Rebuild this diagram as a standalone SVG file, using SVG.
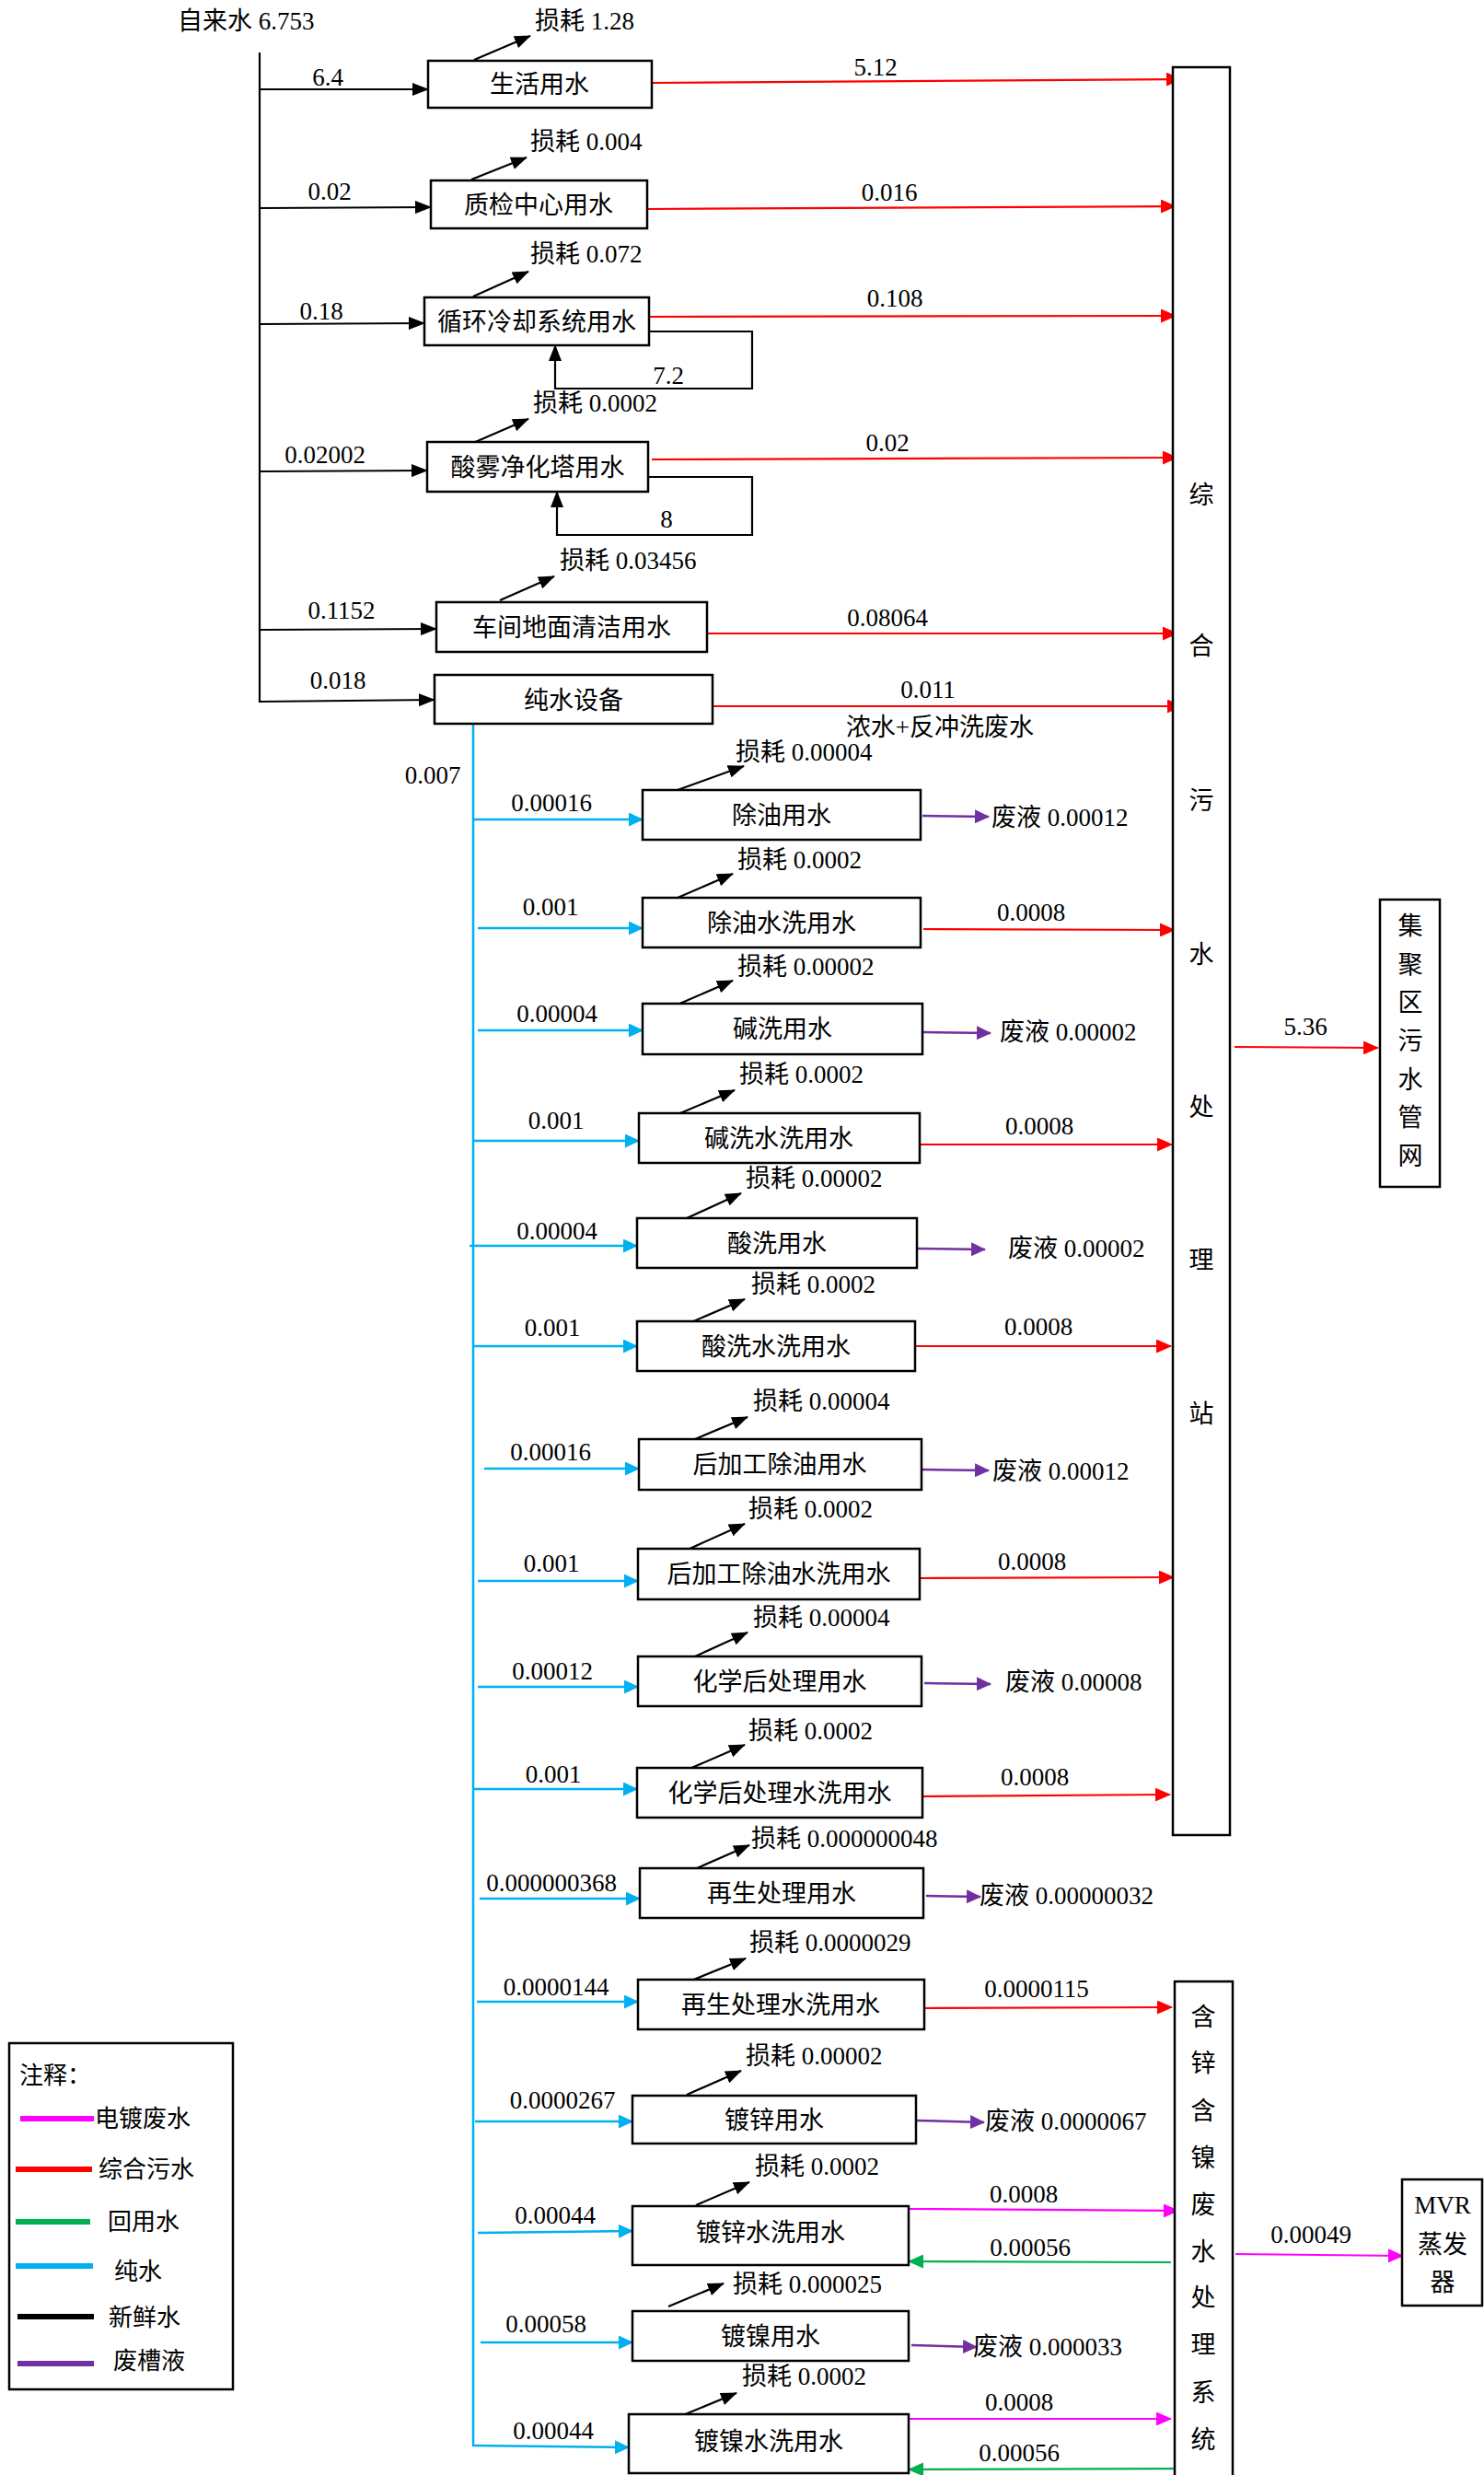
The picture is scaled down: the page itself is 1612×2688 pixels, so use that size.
<svg xmlns="http://www.w3.org/2000/svg" width="1612" height="2688" viewBox="0 0 1612 2688">
<style>
text{font-family:'Liberation Serif','Noto Sans CJK SC',serif;font-size:27px;fill:#000}
.c{text-anchor:middle}
.box{fill:#fff;stroke:#000;stroke-width:2.5}
.k{stroke:#000;stroke-width:2.2;fill:none}
.r{stroke:#FF0000;stroke-width:2.2;fill:none}
.b{stroke:#00B0F0;stroke-width:2.5;fill:none}
.p{stroke:#7030A0;stroke-width:2.5;fill:none}
.m{stroke:#FF00FF;stroke-width:2.2;fill:none}
.g{stroke:#00B050;stroke-width:2.2;fill:none}
.ka{marker-end:url(#ak)}.ra{marker-end:url(#ar)}.ba{marker-end:url(#ab)}.pa{marker-end:url(#ap)}.ma{marker-end:url(#am)}.ga{marker-end:url(#ag)}
.lg{font-size:26px}
</style>
<defs>
<marker id="ak" markerUnits="userSpaceOnUse" markerWidth="18" markerHeight="14" refX="17" refY="7" orient="auto"><path d="M0,0 L18,7 L0,14 z" fill="#000"/></marker>
<marker id="ar" markerUnits="userSpaceOnUse" markerWidth="17" markerHeight="15" refX="16" refY="7.5" orient="auto"><path d="M0,0 L17,7.5 L0,15 z" fill="#FF0000"/></marker>
<marker id="ab" markerUnits="userSpaceOnUse" markerWidth="16" markerHeight="15" refX="15" refY="7.5" orient="auto"><path d="M0,0 L16,7.5 L0,15 z" fill="#00B0F0"/></marker>
<marker id="ap" markerUnits="userSpaceOnUse" markerWidth="16" markerHeight="15" refX="15" refY="7.5" orient="auto"><path d="M0,0 L16,7.5 L0,15 z" fill="#7030A0"/></marker>
<marker id="am" markerUnits="userSpaceOnUse" markerWidth="17" markerHeight="15" refX="16" refY="7.5" orient="auto"><path d="M0,0 L17,7.5 L0,15 z" fill="#FF00FF"/></marker>
<marker id="ag" markerUnits="userSpaceOnUse" markerWidth="17" markerHeight="15" refX="16" refY="7.5" orient="auto"><path d="M0,0 L17,7.5 L0,15 z" fill="#00B050"/></marker>
</defs>
<rect width="1612" height="2688" fill="#fff"/>

<text x="193" y="32" font-size="26">自来水 6.753</text>

<g id="connectors">
<!-- fresh water -->
<line class="k" x1="282" y1="57" x2="282" y2="763"/>
<line class="k ka" x1="282" y1="97" x2="465" y2="97"/>
<line class="k ka" x1="283" y1="226" x2="468" y2="225"/>
<line class="k ka" x1="282" y1="352" x2="461" y2="351"/>
<line class="k ka" x1="283" y1="512" x2="464" y2="511"/>
<line class="k ka" x1="282" y1="684" x2="474" y2="683"/>
<line class="k ka" x1="282" y1="762" x2="472" y2="760"/>
<!-- loops -->
<polyline class="k ka" points="705,360 817,360 817,422 603,422 603,375"/>
<polyline class="k ka" points="704,518 817,518 817,581 605,581 605,534"/>
<!-- loss arrows -->
<line class="k ka" x1="515" y1="65" x2="576" y2="39"/>
<line class="k ka" x1="512" y1="195" x2="572" y2="171"/>
<line class="k ka" x1="514" y1="322" x2="574" y2="295"/>
<line class="k ka" x1="514" y1="481" x2="574" y2="455"/>
<line class="k ka" x1="543" y1="652" x2="602" y2="626"/>
<line class="k ka" x1="736" y1="858" x2="808" y2="832"/>
<line class="k ka" x1="736" y1="975" x2="796" y2="949"/>
<line class="k ka" x1="736" y1="1091" x2="796" y2="1065"/>
<line class="k ka" x1="739" y1="1209" x2="798" y2="1184"/>
<line class="k ka" x1="746" y1="1323" x2="805" y2="1296"/>
<line class="k ka" x1="751" y1="1436" x2="809" y2="1411"/>
<line class="k ka" x1="755" y1="1563" x2="812" y2="1539"/>
<line class="k ka" x1="749" y1="1682" x2="809" y2="1655"/>
<line class="k ka" x1="755" y1="1799" x2="812" y2="1773"/>
<line class="k ka" x1="749" y1="1921" x2="809" y2="1895"/>
<line class="k ka" x1="757" y1="2029" x2="814" y2="2004"/>
<line class="k ka" x1="751" y1="2151" x2="810" y2="2127"/>
<line class="k ka" x1="746" y1="2275" x2="805" y2="2249"/>
<line class="k ka" x1="756" y1="2395" x2="814" y2="2370"/>
<line class="k ka" x1="726" y1="2505" x2="786" y2="2480"/>
<line class="k ka" x1="742" y1="2623" x2="800" y2="2599"/>
<!-- red top -->
<line class="r ra" x1="708" y1="90" x2="1283" y2="86"/>
<line class="r ra" x1="704" y1="227" x2="1277" y2="224"/>
<line class="r ra" x1="705" y1="344" x2="1277" y2="343"/>
<line class="r ra" x1="708" y1="499" x2="1279" y2="497"/>
<line class="r ra" x1="768" y1="688" x2="1279" y2="688"/>
<line class="r ra" x1="774" y1="767" x2="1284" y2="767"/>
<!-- blue -->
<line class="b" x1="514" y1="786" x2="514" y2="2657"/>
<line class="b ba" x1="515" y1="890" x2="698" y2="890"/>
<line class="b ba" x1="519" y1="1008" x2="698" y2="1008"/>
<line class="b ba" x1="519" y1="1119" x2="698" y2="1119"/>
<line class="b ba" x1="515" y1="1239" x2="694" y2="1239"/>
<line class="b ba" x1="510" y1="1353" x2="692" y2="1353"/>
<line class="b ba" x1="515" y1="1462" x2="692" y2="1462"/>
<line class="b ba" x1="526" y1="1595" x2="694" y2="1595"/>
<line class="b ba" x1="519" y1="1717" x2="693" y2="1717"/>
<line class="b ba" x1="519" y1="1832" x2="693" y2="1832"/>
<line class="b ba" x1="515" y1="1943" x2="692" y2="1943"/>
<line class="b ba" x1="521" y1="2062" x2="695" y2="2062"/>
<line class="b ba" x1="518" y1="2174" x2="693" y2="2174"/>
<line class="b ba" x1="516" y1="2304" x2="687" y2="2304"/>
<line class="b ba" x1="519" y1="2425" x2="687" y2="2423"/>
<line class="b ba" x1="522" y1="2544" x2="687" y2="2544"/>
<line class="b ba" x1="514" y1="2656" x2="683" y2="2658"/>
<!-- red lower -->
<line class="r ra" x1="1003" y1="1009" x2="1276" y2="1010"/>
<line class="r ra" x1="993" y1="1243" x2="1273" y2="1243"/>
<line class="r ra" x1="994" y1="1462" x2="1272" y2="1462"/>
<line class="r ra" x1="997" y1="1714" x2="1275" y2="1713"/>
<line class="r ra" x1="1002" y1="1951" x2="1271" y2="1949"/>
<line class="r ra" x1="1004" y1="2181" x2="1273" y2="2180"/>
<line class="r ra" x1="1341" y1="1137" x2="1497" y2="1138"/>
<!-- purple -->
<line class="p pa" x1="1002" y1="886" x2="1074" y2="887"/>
<line class="p pa" x1="1003" y1="1121" x2="1076" y2="1122"/>
<line class="p pa" x1="996" y1="1356" x2="1070" y2="1357"/>
<line class="p pa" x1="1001" y1="1596" x2="1074" y2="1597"/>
<line class="p pa" x1="1004" y1="1828" x2="1076" y2="1829"/>
<line class="p pa" x1="1006" y1="2059" x2="1065" y2="2060"/>
<line class="p pa" x1="995" y1="2303" x2="1069" y2="2305"/>
<line class="p pa" x1="990" y1="2547" x2="1061" y2="2549"/>
<!-- magenta -->
<line class="m ma" x1="987" y1="2399" x2="1280" y2="2401"/>
<line class="m ma" x1="983" y1="2627" x2="1272" y2="2627"/>
<line class="m ma" x1="1342" y1="2448" x2="1524" y2="2450"/>
<!-- green -->
<line class="g ga" x1="1272" y1="2457" x2="987" y2="2456"/>
<line class="g ga" x1="1280" y1="2681" x2="987" y2="2682"/>
</g>

<g id="flow-labels">
<text class="c" x="356" y="93">6.4</text>
<text class="c" x="358" y="217">0.02</text>
<text class="c" x="349" y="347">0.18</text>
<text class="c" x="353" y="503">0.02002</text>
<text class="c" x="371" y="672">0.1152</text>
<text class="c" x="367" y="748">0.018</text>
<text class="c" x="726" y="417">7.2</text>
<text class="c" x="724" y="573">8</text>
<text x="581" y="32">损耗 1.28</text>
<text x="576" y="163">损耗 0.004</text>
<text x="576" y="285">损耗 0.072</text>
<text x="579" y="447">损耗 0.0002</text>
<text x="608" y="618">损耗 0.03456</text>
<text class="c" x="951" y="82">5.12</text>
<text class="c" x="966" y="218">0.016</text>
<text class="c" x="972" y="333">0.108</text>
<text class="c" x="964" y="490">0.02</text>
<text class="c" x="964" y="680">0.08064</text>
<text class="c" x="1008" y="758">0.011</text>
<text class="c" x="1021" y="799">浓水+反冲洗废水</text>
<text class="c" x="470" y="851">0.007</text>
<text x="799" y="826">损耗 0.00004</text>
<text x="801" y="943">损耗 0.0002</text>
<text x="801" y="1059">损耗 0.00002</text>
<text x="803" y="1176">损耗 0.0002</text>
<text x="810" y="1289">损耗 0.00002</text>
<text x="816" y="1404">损耗 0.0002</text>
<text x="818" y="1531">损耗 0.00004</text>
<text x="813" y="1648">损耗 0.0002</text>
<text x="818" y="1766">损耗 0.00004</text>
<text x="813" y="1889">损耗 0.0002</text>
<text x="816" y="2006">损耗 0.000000048</text>
<text x="814" y="2119">损耗 0.0000029</text>
<text x="810" y="2242">损耗 0.00002</text>
<text x="820" y="2362">损耗 0.0002</text>
<text x="796" y="2490">损耗 0.000025</text>
<text x="806" y="2590">损耗 0.0002</text>
<text class="c" x="599" y="881">0.00016</text>
<text class="c" x="598" y="994">0.001</text>
<text class="c" x="605" y="1110">0.00004</text>
<text class="c" x="604" y="1226">0.001</text>
<text class="c" x="605" y="1346">0.00004</text>
<text class="c" x="600" y="1451">0.001</text>
<text class="c" x="598" y="1586">0.00016</text>
<text class="c" x="599" y="1707">0.001</text>
<text class="c" x="600" y="1824">0.00012</text>
<text class="c" x="601" y="1936">0.001</text>
<text class="c" x="599" y="2054">0.000000368</text>
<text class="c" x="604" y="2167">0.0000144</text>
<text class="c" x="611" y="2290">0.0000267</text>
<text class="c" x="603" y="2415">0.00044</text>
<text class="c" x="593" y="2533">0.00058</text>
<text class="c" x="601" y="2649">0.00044</text>
<text class="c" x="1120" y="1000">0.0008</text>
<text class="c" x="1129" y="1232">0.0008</text>
<text class="c" x="1128" y="1450">0.0008</text>
<text class="c" x="1121" y="1705">0.0008</text>
<text class="c" x="1124" y="1939">0.0008</text>
<text class="c" x="1126" y="2169">0.0000115</text>
<text class="c" x="1418" y="1124">5.36</text>
<text x="1077" y="897">废液 0.00012</text>
<text x="1086" y="1130">废液 0.00002</text>
<text x="1095" y="1365">废液 0.00002</text>
<text x="1078" y="1607">废液 0.00012</text>
<text x="1092" y="1836">废液 0.00008</text>
<text x="1064" y="2068">废液 0.00000032</text>
<text x="1070" y="2313">废液 0.0000067</text>
<text x="1057" y="2558">废液 0.000033</text>
<text class="c" x="1112" y="2392">0.0008</text>
<text class="c" x="1119" y="2450">0.00056</text>
<text class="c" x="1107" y="2618">0.0008</text>
<text class="c" x="1107" y="2673">0.00056</text>
<text class="c" x="1424" y="2436">0.00049</text>
</g>

<g id="n-shenghuo"><rect class="box" x="465" y="66" width="243" height="51"/><text class="c" x="586" y="101">生活用水</text></g>
<g id="n-zhijian"><rect class="box" x="468" y="196" width="235" height="52"/><text class="c" x="585" y="232">质检中心用水</text></g>
<g id="n-xunhuan"><rect class="box" x="461" y="323" width="244" height="52"/><text class="c" x="583" y="359">循环冷却系统用水</text></g>
<g id="n-suanwu"><rect class="box" x="464" y="480" width="240" height="54"/><text class="c" x="584" y="517">酸雾净化塔用水</text></g>
<g id="n-chejian"><rect class="box" x="474" y="654" width="294" height="54"/><text class="c" x="621" y="691">车间地面清洁用水</text></g>
<g id="n-chunshui"><rect class="box" x="472" y="733" width="302" height="53"/><text class="c" x="623" y="770">纯水设备</text></g>

<g id="n-zonghe"><rect class="box" x="1274" y="73" width="62" height="1920"/>
<text class="c" x="1305" y="547">综</text><text class="c" x="1305" y="711">合</text><text class="c" x="1305" y="879">污</text><text class="c" x="1305" y="1046">水</text><text class="c" x="1305" y="1212">处</text><text class="c" x="1305" y="1378">理</text><text class="c" x="1305" y="1545">站</text></g>
<g id="n-jiju"><rect class="box" x="1499" y="977" width="65" height="312"/>
<text class="c" x="1532" y="1015">集</text><text class="c" x="1532" y="1057">聚</text><text class="c" x="1532" y="1098">区</text><text class="c" x="1532" y="1140">污</text><text class="c" x="1532" y="1182">水</text><text class="c" x="1532" y="1223">管</text><text class="c" x="1532" y="1265">网</text></g>

<g id="n-chuyou"><rect class="box" x="698" y="858" width="302" height="54"/><text class="c" x="849" y="895">除油用水</text></g>
<g id="n-chuyou-sx"><rect class="box" x="698" y="975" width="302" height="54"/><text class="c" x="849" y="1012">除油水洗用水</text></g>
<g id="n-jianxi"><rect class="box" x="698" y="1090" width="304" height="55"/><text class="c" x="850" y="1127">碱洗用水</text></g>
<g id="n-jianxi-sx"><rect class="box" x="694" y="1209" width="305" height="54"/><text class="c" x="846" y="1246">碱洗水洗用水</text></g>
<g id="n-suanxi"><rect class="box" x="692" y="1323" width="304" height="54"/><text class="c" x="844" y="1360">酸洗用水</text></g>
<g id="n-suanxi-sx"><rect class="box" x="692" y="1435" width="302" height="54"/><text class="c" x="843" y="1472">酸洗水洗用水</text></g>
<g id="n-hjg"><rect class="box" x="694" y="1563" width="307" height="55"/><text class="c" x="847" y="1600">后加工除油用水</text></g>
<g id="n-hjg-sx"><rect class="box" x="693" y="1682" width="306" height="55"/><text class="c" x="846" y="1719">后加工除油水洗用水</text></g>
<g id="n-hx"><rect class="box" x="693" y="1799" width="308" height="54"/><text class="c" x="847" y="1836">化学后处理用水</text></g>
<g id="n-hx-sx"><rect class="box" x="692" y="1920" width="310" height="54"/><text class="c" x="847" y="1957">化学后处理水洗用水</text></g>
<g id="n-zs"><rect class="box" x="695" y="2029" width="308" height="54"/><text class="c" x="849" y="2066">再生处理用水</text></g>
<g id="n-zs-sx"><rect class="box" x="693" y="2150" width="311" height="54"/><text class="c" x="848" y="2187">再生处理水洗用水</text></g>
<g id="n-dx"><rect class="box" x="687" y="2276" width="308" height="52"/><text class="c" x="841" y="2312">镀锌用水</text></g>
<g id="n-dx-sx"><rect class="box" x="687" y="2396" width="300" height="64"/><text class="c" x="837" y="2434">镀锌水洗用水</text></g>
<g id="n-dn"><rect class="box" x="687" y="2510" width="300" height="54"/><text class="c" x="837" y="2547">镀镍用水</text></g>
<g id="n-dn-sx"><rect class="box" x="683" y="2622" width="304" height="64"/><text class="c" x="835" y="2661">镀镍水洗用水</text></g>

<g id="n-hanxin"><rect class="box" x="1276" y="2152" width="63" height="545"/>
<text class="c" x="1307" y="2200">含</text><text class="c" x="1307" y="2250">锌</text><text class="c" x="1307" y="2302">含</text><text class="c" x="1307" y="2353">镍</text><text class="c" x="1307" y="2404">废</text><text class="c" x="1307" y="2455">水</text><text class="c" x="1307" y="2505">处</text><text class="c" x="1307" y="2556">理</text><text class="c" x="1307" y="2608">系</text><text class="c" x="1307" y="2659">统</text></g>
<g id="n-mvr"><rect class="box" x="1523" y="2367" width="87" height="137"/>
<text class="c" x="1567" y="2404">MVR</text><text class="c" x="1567" y="2447">蒸发</text><text class="c" x="1567" y="2488">器</text></g>

<g id="legend"><rect class="box" x="10" y="2219" width="243" height="376"/>
<text class="lg" x="21" y="2263">注释：</text>
<line x1="22" y1="2301" x2="102" y2="2301" stroke="#FF00FF" stroke-width="6"/><text class="lg" x="103" y="2310">电镀废水</text>
<line x1="17" y1="2356" x2="100" y2="2356" stroke="#FF0000" stroke-width="6"/><text class="lg" x="107" y="2365">综合污水</text>
<line x1="17" y1="2413" x2="98" y2="2413" stroke="#00B050" stroke-width="6"/><text class="lg" x="117" y="2422">回用水</text>
<line x1="17" y1="2461" x2="101" y2="2461" stroke="#00B0F0" stroke-width="6"/><text class="lg" x="124" y="2476">纯水</text>
<line x1="19" y1="2516" x2="102" y2="2516" stroke="#000" stroke-width="6"/><text class="lg" x="118" y="2526">新鲜水</text>
<line x1="19" y1="2567" x2="102" y2="2567" stroke="#7030A0" stroke-width="6"/><text class="lg" x="123" y="2573">废槽液</text>
</g>
</svg>
